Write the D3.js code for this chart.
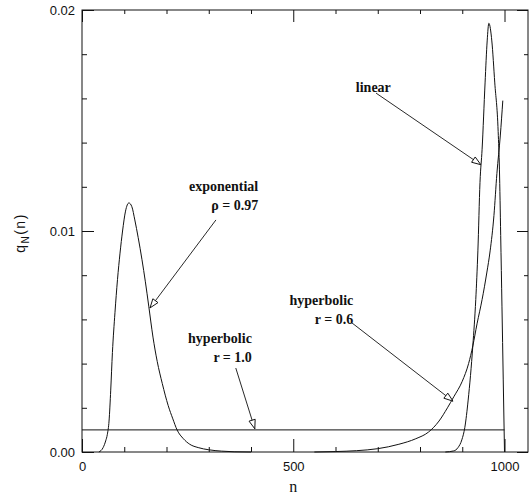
<!DOCTYPE html>
<html><head><meta charset="utf-8">
<script src="https://cdn.jsdelivr.net/npm/d3@7"></script>
<style>body{margin:0;background:#fff} svg{display:block}</style>
</head><body>
<svg id="c" width="529" height="495"></svg>
<script>
// ---- data ----
const expN = [40, 50, 56, 60, 64, 68, 72, 78, 84, 90, 96, 103, 111, 118, 125, 133, 142, 150, 158, 168, 178, 190, 204, 215, 225, 240, 255, 275, 300, 330, 360, 400];
const expQ = [0, 0.0002, 0.0005, 0.0008, 0.0014, 0.0028, 0.0045, 0.0063, 0.0078, 0.0090, 0.0100, 0.0109, 0.01127, 0.0111, 0.0105, 0.0097, 0.0087, 0.0077, 0.0066, 0.0052, 0.0041, 0.0031, 0.0021, 0.0015, 0.0010, 0.0006, 0.00035, 0.0002, 0.0001, 0.00004, 0.00001, 0];

const hyp1N = [0, 1000];
const hyp1Q = [0.001, 0.001];

const hyp06N = [550, 600, 650, 700, 750, 790, 820, 845, 865, 880, 900, 915, 925, 935, 947, 958, 966, 975, 982, 990, 996];
const hyp06Q = [0, 0.00002, 0.00006, 0.00015, 0.00035, 0.0006, 0.0009, 0.0014, 0.0020, 0.0025, 0.0032, 0.0040, 0.0048, 0.0058, 0.0069, 0.0081, 0.0091, 0.0107, 0.0126, 0.0143, 0.0159];

const linN = [860, 880, 890, 899, 906, 914, 925, 932, 937, 942, 947, 954, 959, 963, 970, 977, 985, 988, 991, 994, 997, 1000];
const linQ = [0, 0.00005, 0.0002, 0.00055, 0.0011, 0.00235, 0.0048, 0.0069, 0.0091, 0.0122, 0.0137, 0.0167, 0.0186, 0.0194, 0.0186, 0.0167, 0.0145, 0.0128, 0.0098, 0.0066, 0.0033, 0];

const xMajor = [0, 500, 1000];
const xMinor = [100, 200, 300, 400, 600, 700, 800, 900];
const yMajor = [0, 0.01, 0.02];
const yMinor = [0.002, 0.004, 0.006, 0.008, 0.012, 0.014, 0.016, 0.018];

// annotations: label lines, text anchor point, arrow start, arrow tip (data coords)
const annLines = [["exponential", "ρ = 0.97"], ["hyperbolic", "r = 1.0"], ["hyperbolic", "r = 0.6"], ["linear"]];
const annTextAt = [[417, 0.0118], [402, 0.00495], [642, 0.00665], [731, 0.0163]];
const annFrom = [[317, 0.0105], [364, 0.0038], [639, 0.00584], [696, 0.01624]];
const annTo = [[161, 0.00652], [409, 0.00105], [878, 0.0023], [944, 0.0130]];

// ---- drawing ----
const svg = d3.select("#c");
const x = d3.scaleLinear().domain([0, 1000]).range([82, 504.5]);
const y = d3.scaleLinear().domain([0, 0.02]).range([452, 10]);
const xRight = 528;
const ink = "#111";

const defs = svg.append("defs");
defs.append("marker").attr("id", "ah")
  .attr("viewBox", "-11 -5 12 10").attr("refX", 0).attr("refY", 0)
  .attr("markerWidth", 12).attr("markerHeight", 10)
  .attr("markerUnits", "userSpaceOnUse").attr("orient", "auto")
  .append("path").attr("d", "M0,0 L-9,-3.2 L-9,3.2 Z")
  .attr("fill", "#fff").attr("stroke", ink).attr("stroke-width", 0.9);

// frame
svg.append("rect").attr("x", x(0)).attr("y", y(0.02))
  .attr("width", xRight - x(0)).attr("height", y(0) - y(0.02))
  .attr("fill", "none").attr("stroke", ink).attr("stroke-width", 1);

function axisG(axis, tx, ty) {
  const g = svg.append("g").attr("transform", `translate(${tx},${ty})`).call(axis);
  g.select(".domain").remove();
  g.selectAll("line").attr("stroke", ink);
  return g;
}
// bottom
axisG(d3.axisBottom(x).tickValues(xMinor).tickSize(-5).tickFormat(""), 0, y(0));
axisG(d3.axisBottom(x).tickValues(xMajor).tickSize(-13).tickPadding(10).tickFormat(d3.format("d")), 0, y(0))
  .selectAll("text").attr("font-family", "Liberation Sans, Arial, sans-serif").attr("font-size", 13).attr("fill", ink);
// top
axisG(d3.axisTop(x).tickValues(xMinor).tickSize(-4).tickFormat(""), 0, y(0.02));
axisG(d3.axisTop(x).tickValues(xMajor).tickSize(-12).tickFormat(""), 0, y(0.02));
// left
axisG(d3.axisLeft(y).tickValues(yMinor).tickSize(-5).tickFormat(""), x(0), 0);
axisG(d3.axisLeft(y).tickValues(yMajor).tickSize(-12).tickPadding(7).tickFormat(d3.format(".2f")), x(0), 0)
  .selectAll("text").attr("font-family", "Liberation Sans, Arial, sans-serif").attr("font-size", 13).attr("fill", ink);
// right
axisG(d3.axisRight(y).tickValues(yMinor).tickSize(-4).tickFormat(""), xRight, 0);
axisG(d3.axisRight(y).tickValues(yMajor).tickSize(-11).tickFormat(""), xRight, 0);

// axis titles
svg.append("text").attr("x", (x(0) + x(1000)) / 2).attr("y", 492)
  .attr("text-anchor", "middle").attr("font-family", "Liberation Serif, Times New Roman, serif")
  .attr("font-size", 16).attr("fill", ink).text("n");
const yl = svg.append("text").attr("transform", "translate(25,233) rotate(-90)")
  .attr("text-anchor", "middle").attr("font-family", "Liberation Sans, Arial, sans-serif")
  .attr("font-size", 14).attr("letter-spacing", 1.5).attr("fill", ink);
yl.append("tspan").text("q");
yl.append("tspan").attr("font-size", 10).attr("dy", 4).text("N");
yl.append("tspan").attr("dy", -4).text("(n)");

// curves
const line = d3.line().x(d => x(d[0])).y(d => y(d[1])).curve(d3.curveMonotoneX);
const series = [[expN, expQ], [hyp1N, hyp1Q], [hyp06N, hyp06Q], [linN, linQ]];
series.forEach(([ns, qs]) => {
  svg.append("path").datum(ns.map((n, i) => [n, qs[i]]))
    .attr("d", line).attr("fill", "none").attr("stroke", ink).attr("stroke-width", 1);
});

// annotations
annLines.forEach((lines, i) => {
  const t = svg.append("text").attr("x", x(annTextAt[i][0])).attr("y", y(annTextAt[i][1]))
    .attr("text-anchor", "end").attr("font-family", "Liberation Serif, Times New Roman, serif")
    .attr("font-weight", "bold").attr("font-size", 14).attr("fill", ink);
  lines.forEach((s, j) => t.append("tspan").attr("x", x(annTextAt[i][0])).attr("dy", j === 0 ? 0 : 19).text(s));
  svg.append("line")
    .attr("x1", x(annFrom[i][0])).attr("y1", y(annFrom[i][1]))
    .attr("x2", x(annTo[i][0])).attr("y2", y(annTo[i][1]))
    .attr("stroke", ink).attr("stroke-width", 0.9).attr("marker-end", "url(#ah)");
});
</script>
</body></html>
